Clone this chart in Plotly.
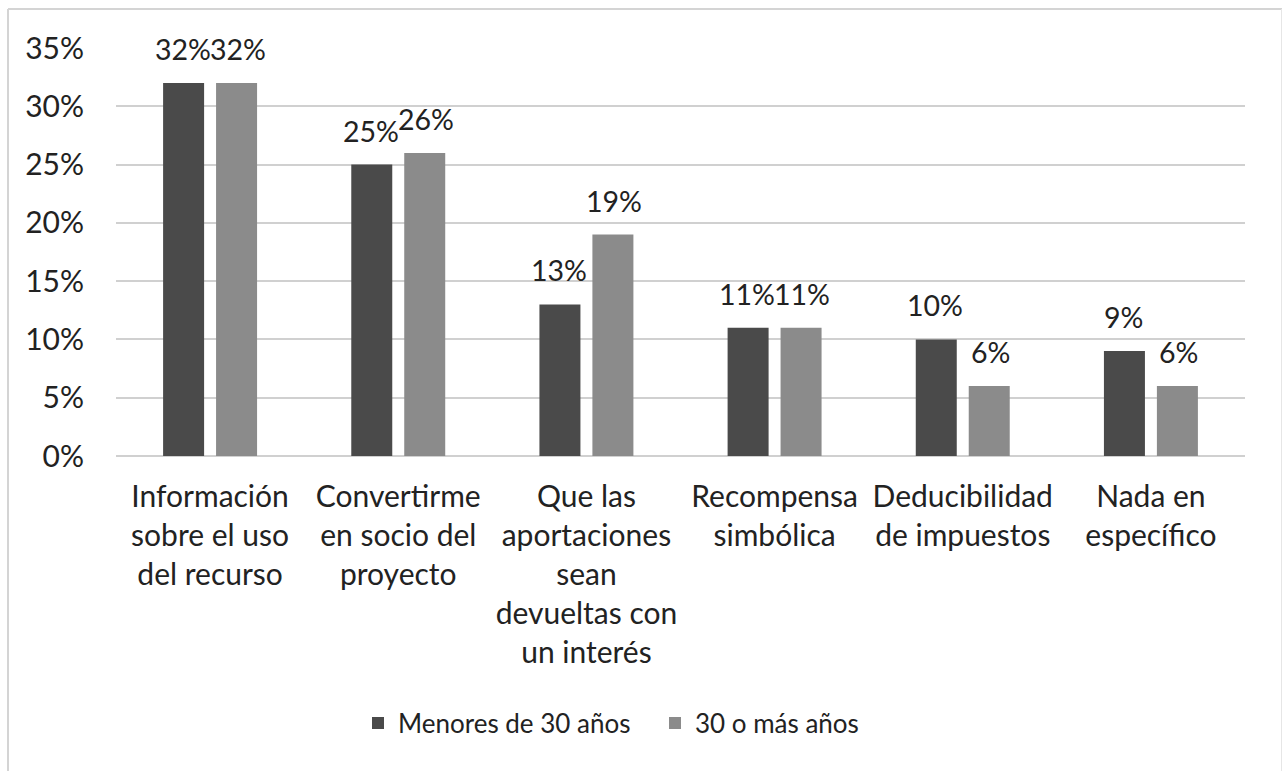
import plotly.graph_objects as go

categories = [
    "Información<br>sobre el uso<br>del recurso",
    "Convertirme<br>en socio del<br>proyecto",
    "Que las<br>aportaciones<br>sean<br>devueltas con<br>un interés",
    "Recompensa<br>simbólica",
    "Deducibilidad<br>de impuestos",
    "Nada en<br>específico",
]
menores = [32, 25, 13, 11, 10, 9]
mayores = [32, 26, 19, 11, 6, 6]
series_names = ["Menores de 30 años", "30 o más años"]
colors = ["#4a4a4a", "#8b8b8b"]
tick_vals = [0, 5, 10, 15, 20, 25, 30, 35]
tick_text = [f"{v}%" for v in tick_vals]

FONT = "Lato"
FS = 30
TXT = "#222222"

fig = go.Figure()
for name, vals, col in zip(series_names, [menores, mayores], colors):
    fig.add_trace(go.Bar(x=categories, y=vals, name=name, marker_color=col,
                         marker_line_width=0))

annotations = []
for vals, shift in [(menores, -27.5), (mayores, 27.5)]:
    for c, v in zip(categories, vals):
        annotations.append(dict(x=c, y=v, text=f"{v}%", showarrow=False,
                                xshift=shift, yshift=15, yanchor="bottom",
                                font=dict(family=FONT, size=28.5, color=TXT)))

L, R, T, B = 116, 38, 48, 315
W, H = 1283, 771
pw, ph = W - L - R, H - T - B
def px(x):
    return (x - L) / pw
def py(y):
    return (H - B - y) / ph

shapes = [
    dict(type="line", xref="paper", yref="paper", x0=px(8), x1=px(8), y0=py(9), y1=py(790),
         line=dict(color="#d4d4d4", width=2)),
    dict(type="line", xref="paper", yref="paper", x0=px(8), x1=px(1282), y0=py(9), y1=py(9),
         line=dict(color="#d4d4d4", width=2)),
    dict(type="line", xref="paper", yref="paper", x0=px(1281.5), x1=px(1281.5), y0=py(9), y1=py(790),
         line=dict(color="#e6e6e6", width=1)),
]

fig.update_layout(
    width=W, height=H,
    margin=dict(l=L, r=R, t=T, b=B),
    paper_bgcolor="white", plot_bgcolor="white",
    font=dict(family=FONT, size=FS, color=TXT),
    barmode="group", bargap=0.437, bargroupgap=0.226,
    showlegend=True,
    legend=dict(orientation="h", x=px(358), xanchor="left", y=py(723), yanchor="middle",
                font=dict(family=FONT, size=26, color=TXT), itemwidth=30,
                entrywidth=252, entrywidthmode="pixels",
                traceorder="normal"),
    annotations=annotations,
    shapes=shapes,
)
fig.update_xaxes(showgrid=False, showline=False, ticks="", ticklabelstandoff=20,
                 tickfont=dict(family=FONT, size=FS, color=TXT), fixedrange=True)
fig.update_yaxes(range=[0, 35], tickvals=tick_vals, ticktext=tick_text,
                 showgrid=True, gridcolor="#d0d0d0", gridwidth=2,
                 zeroline=True, zerolinecolor="#d0d0d0", zerolinewidth=2,
                 showline=False, ticks="", ticklabelstandoff=31,
                 tickfont=dict(family=FONT, size=FS, color=TXT))
fig.write_html("out.html", config={"displayModeBar": False},
               post_script="document.body.style.margin='0';document.body.style.padding='0';")
